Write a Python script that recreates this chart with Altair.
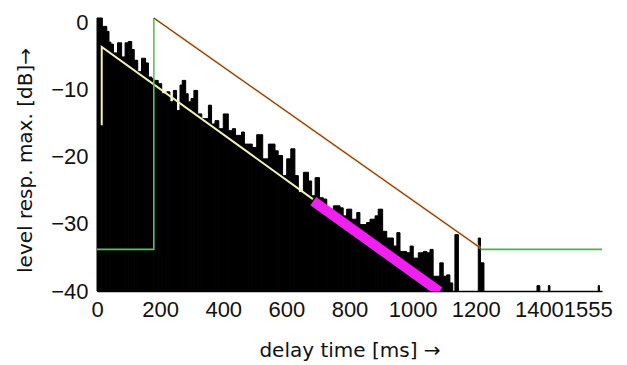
import altair as alt
import pandas as pd

# impulse-response bars: start/end time [ms] and peak level [dB]
bar_start = [0, 17, 31, 38, 44, 52, 65, 78, 89, 99, 110, 118, 129, 141, 154, 163, 173, 180, 194, 205,
             221, 231, 242, 252, 263, 270, 281, 289, 298, 307, 319, 332, 353, 363, 374, 386, 400, 416,
             429, 439, 458, 467, 479, 492, 506, 525, 543, 564, 574, 588, 601, 614, 627, 638, 654, 670,
             680, 691, 705, 717, 728, 749, 770, 780, 791, 807, 823, 833, 854, 865, 881, 891, 905, 918,
             939, 950, 960, 981, 992, 1002, 1018, 1034, 1045, 1055, 1065, 1086, 1097, 1108, 1118,
             1134, 1208, 1215, 1394, 1430, 1588]
bar_end = [17, 31, 38, 44, 52, 65, 78, 89, 99, 110, 118, 129, 141, 154, 163, 173, 180, 194, 205, 221,
           231, 242, 252, 263, 270, 281, 289, 298, 307, 319, 332, 353, 363, 374, 386, 400, 416, 429,
           439, 458, 467, 479, 492, 506, 525, 543, 564, 574, 588, 601, 614, 627, 638, 654, 670, 680,
           691, 705, 717, 728, 749, 770, 780, 791, 807, 823, 833, 854, 865, 881, 891, 905, 918, 939,
           950, 960, 981, 992, 1002, 1018, 1034, 1045, 1055, 1065, 1086, 1097, 1108, 1118, 1127,
           1145, 1215, 1226, 1403, 1435, 1592]
bar_level = [0.7, -0.55, -1.3, -2.9, -3.2, -4.5, -3.0, -5.1, -3.0, -2.8, -4.0, -5.6, -7.3, -5.3, -6.0,
             -8.1, -8.3, -8.6, -9.1, -10.6, -10.3, -11.8, -10.1, -13.1, -9.3, -8.6, -10.6, -11.8,
             -11.3, -10.1, -13.6, -14.3, -12.3, -15.1, -14.6, -15.8, -13.6, -16.1, -15.8, -16.8,
             -16.3, -18.1, -18.1, -18.6, -16.7, -20.3, -18.1, -19.1, -19.8, -22.8, -20.3, -18.8,
             -22.8, -25.3, -22.3, -23.6, -25.8, -23.1, -26.1, -26.3, -27.8, -27.3, -27.6, -28.8,
             -27.8, -29.3, -28.3, -30.1, -29.8, -29.3, -28.8, -27.8, -31.1, -32.1, -33.3, -31.3,
             -34.1, -34.3, -33.3, -35.1, -34.3, -34.1, -34.3, -33.8, -37.8, -35.8, -37.8, -37.6,
             -38.8, -31.6, -32.1, -35.8, -39.2, -39.2, -39.2]

# regression / marker lines
yellow_ms = [15, 15, 684]
yellow_db = [-15.3, -3.6, -26.3]
magenta_ms = [685, 1085]
magenta_db = [-26.6, -40.1]
green_left_ms = [0, 180, 180]
green_left_db = [-33.8, -33.8, 0.7]
red_ms = [180, 1215]
red_db = [0.7, -33.6]
green_right_ms = [1215, 1600]
green_right_db = [-33.8, -33.8]

x_ticks = [0, 200, 400, 600, 800, 1000, 1200, 1400, 1555]
y_ticks = [0, -10, -20, -30, -40]
x_domain = [0, 1600]
y_domain = [-40, 0.7]

bars = pd.DataFrame({"t0": bar_start, "t1": bar_end, "lvl": bar_level,
                     "base": [-40] * len(bar_level)})


def line_df(xs, ys):
    return pd.DataFrame({"ms": xs, "db": ys, "i": list(range(len(xs)))})


x_axis = alt.Axis(values=x_ticks, format="d", title="delay time [ms] →", tickSize=0,
                  labelPadding=8, labelFont="Liberation Sans", labelFontSize=22,
                  labelColor="#111111", labelFlush=False, labelOverlap=False, grid=False,
                  domainColor="#000000", domainWidth=1.5, titleFont="DejaVu Sans",
                  titleFontSize=20, titleFontWeight="normal", titleColor="#111111",
                  titlePadding=20)
y_axis = alt.Axis(values=y_ticks, format="d", title="level resp. max. [dB]→", tickSize=0,
                  labelPadding=9, labelFont="Liberation Sans", labelFontSize=22,
                  labelColor="#111111", labelFlush=False, labelOverlap=False, grid=False,
                  domainColor="#000000", titleFont="DejaVu Sans", titleFontSize=20,
                  titleFontWeight="normal", titleColor="#111111", titleAngle=270, titleX=-72,
                  titleY=142, titleAlign="center", titleBaseline="middle")

xs = alt.Scale(domain=x_domain, nice=False, zero=False)
ys = alt.Scale(domain=y_domain, nice=False, zero=False)


def X(f):
    return alt.X(f, type="quantitative", scale=xs, axis=x_axis)


def Y(f):
    return alt.Y(f, type="quantitative", scale=ys, axis=y_axis)


bar_layer = alt.Chart(bars).mark_rect(color="#000000", stroke="#000000", strokeWidth=1).encode(
    x=X("t0"), x2="t1", y=Y("lvl"), y2="base")


def line_layer(xs_, ys_, **kw):
    return alt.Chart(line_df(xs_, ys_)).mark_line(**kw).encode(
        x=X("ms"), y=Y("db"), order=alt.Order("i:Q"))


yellow = line_layer(yellow_ms, yellow_db, color="#f2f2b8", strokeWidth=2)
magenta = line_layer(magenta_ms, magenta_db, color="#f020f0", strokeWidth=10, clip=True,
                     strokeCap="butt")
green_l = line_layer(green_left_ms, green_left_db, color="#5cbf5c", strokeWidth=1.6)
green_r = line_layer(green_right_ms, green_right_db, color="#4caf50", strokeWidth=1.6)
red_halo = line_layer(red_ms, red_db, color="#e6e66a", strokeWidth=3, opacity=0.5)
red = line_layer(red_ms, red_db, color="#8b2f2f", strokeWidth=1.3)

chart = alt.layer(bar_layer, yellow, magenta, green_l, green_r, red_halo, red).properties(
    width=505, height=273,
    autosize=alt.AutoSizeParams(type="none"),
    padding={"left": 97, "top": 18, "right": 25, "bottom": 74},
    background="#ffffff",
).configure_view(strokeWidth=0)

chart.save("out.html", embed_options={"renderer": "svg", "actions": False})
